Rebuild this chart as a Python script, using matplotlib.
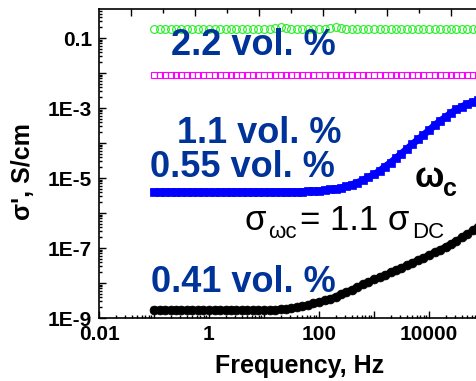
import matplotlib
matplotlib.use("Agg")
import matplotlib.pyplot as plt
from matplotlib.ticker import FixedLocator, FixedFormatter, LogLocator, NullFormatter

W, H = 477, 381
DPI = 100

# ---------------- data ----------------
freq = [0.1, 0.126, 0.158, 0.2, 0.251, 0.316, 0.398, 0.501, 0.631, 0.794,
        1.0, 1.26, 1.58, 2.0, 2.51, 3.16, 3.98, 5.01, 6.31, 7.94,
        10.0, 12.6, 15.8, 20.0, 25.1, 31.6, 39.8, 50.1, 63.1, 79.4,
        100.0, 126, 158, 200, 251, 316, 398, 501, 631, 794,
        1000, 1260, 1580, 2000, 2510, 3160, 3980, 5010, 6310, 7940,
        10000, 12600, 15800, 20000, 25100, 31600, 39800, 50100, 63100, 79400]

sigma_22 = [0.18] * 22 + [0.19, 0.21, 0.19] + [0.18] * 7 + [0.19, 0.20, 0.19] + [0.18] * 25

sigma_11 = [0.0085] * 60

sigma_055 = [4.0e-6] * 25 + [
    4.0e-6, 4.0e-6, 4.1e-6, 4.2e-6, 4.2e-6,
    4.3e-6, 4.5e-6, 4.7e-6, 4.9e-6, 5.2e-6, 5.8e-6, 6.5e-6, 7.4e-6, 8.7e-6, 1.05e-5,
    1.26e-5, 1.58e-5, 2.1e-5, 2.75e-5, 3.7e-5, 5.0e-5, 6.8e-5, 9.3e-5, 1.26e-4, 1.7e-4,
    2.3e-4, 3.2e-4, 4.2e-4, 5.5e-4, 7.2e-4, 9.1e-4, 1.1e-3, 1.3e-3, 1.5e-3, 1.66e-3]

sigma_041 = [1.7e-9] * 23 + [
    1.75e-9, 1.8e-9, 1.9e-9, 2.0e-9, 2.15e-9, 2.35e-9, 2.6e-9,
    2.9e-9, 3.2e-9, 3.5e-9, 4.1e-9, 4.8e-9, 5.6e-9, 6.5e-9, 7.6e-9, 9.1e-9, 1.07e-8,
    1.26e-8, 1.45e-8, 1.7e-8, 2.0e-8, 2.35e-8, 2.75e-8, 3.2e-8, 3.8e-8, 4.5e-8, 5.3e-8,
    6.3e-8, 7.5e-8, 8.9e-8, 1.08e-7, 1.32e-7, 1.6e-7, 2.0e-7, 2.5e-7, 3.2e-7, 4.0e-7]

labels = ["2.2 vol. %", "1.1 vol. %", "0.55 vol. %", "0.41 vol. %"]
xticks = [0.01, 0.1, 1, 10, 100, 1000, 10000]
xticklabels = ["0.01", "", "1", "", "100", "", "10000"]
yticks = [1e-9, 1e-8, 1e-7, 1e-6, 1e-5, 1e-4, 1e-3, 1e-2, 1e-1]
yticklabels = ["1E-9", "", "1E-7", "", "1E-5", "", "1E-3", "", "0.1"]

# ---------------- figure ----------------
plt.rcParams['font.family'] = ['Liberation Sans', 'DejaVu Sans']
fig = plt.figure(figsize=(W / DPI, H / DPI), dpi=DPI)
left, right, top, bottom = 99, 477, 9, 318
ax = fig.add_axes([left / W, 1 - bottom / H, (right - left) / W, (bottom - top) / H])

ax.plot(freq, sigma_22, 'o', ms=5.6, mfc='none', mec='#22ee22', mew=0.8, zorder=3)
ax.plot(freq, sigma_11, 's', ms=4.6, mfc='none', mec='#ff00ff', mew=0.8, zorder=3)
ax.plot(freq, sigma_055, 's-', ms=6.2, lw=5, color='#0000ff', mfc='#0000ff', mec='#0000ff',
        mew=0.5, zorder=3)
ax.plot(freq, sigma_041, 'o-', ms=6.4, lw=4.5, color='black', mfc='black', mec='black',
        mew=0.5, zorder=3)

ax.set_xscale('log')
ax.set_yscale('log')
ax.set_xlim(0.01, 10 ** 4.873)
ax.set_ylim(1e-9, 10 ** (-0.171))

for s in ['left', 'bottom', 'top']:
    ax.spines[s].set_linewidth(1.2)
ax.spines['right'].set_visible(False)

ax.xaxis.set_major_locator(FixedLocator(xticks))
ax.xaxis.set_major_formatter(FixedFormatter(xticklabels))
ax.xaxis.set_minor_locator(LogLocator(base=10, subs=range(2, 10), numticks=20))
ax.xaxis.set_minor_formatter(NullFormatter())
ax.yaxis.set_major_locator(FixedLocator(yticks))
ax.yaxis.set_major_formatter(FixedFormatter(yticklabels))
ax.yaxis.set_minor_locator(LogLocator(base=10, subs=range(2, 10), numticks=20))
ax.yaxis.set_minor_formatter(NullFormatter())
ax.tick_params(which='both', direction='in', top=False, right=False, width=1.0)
ax.tick_params(which='major', length=5, labelsize=15, pad=5)
ax.tick_params(which='minor', length=2.5)
for lab in ax.get_xticklabels() + ax.get_yticklabels():
    lab.set_fontweight('bold')

# top linear tick axis
ax2 = ax.twiny()
ax2.set_xscale('linear')
ax2.set_xlim(0, (right - left) / 64)
ax2.xaxis.set_major_locator(FixedLocator([0.5, 1.5, 2.5, 3.5, 4.5, 5.5]))
ax2.xaxis.set_minor_locator(FixedLocator([1, 2, 3, 4, 5]))
ax2.tick_params(which='both', direction='in', labeltop=False, width=1.0)
ax2.tick_params(which='major', length=5)
ax2.tick_params(which='minor', length=3)
for s in ['left', 'bottom', 'right', 'top']:
    ax2.spines[s].set_visible(False)

def ptext(x, y, s, **kw):
    fig.text(x / W, 1 - y / H, s, va='baseline', ha='left', **kw)

blue = '#003399'
ptext(171, 55, labels[0], fontsize=26, fontweight='bold', color=blue)
ptext(177, 143, labels[1], fontsize=26, fontweight='bold', color=blue)
ptext(150, 177, labels[2], fontsize=26, fontweight='bold', color=blue)
ptext(151, 292, labels[3], fontsize=26, fontweight='bold', color=blue)

ptext(415, 187, "ω", fontsize=25, fontweight='bold', color='black')
ptext(443, 196, "c", fontsize=18, fontweight='bold', color='black')

ptext(245, 230, "σ", fontsize=25, color='black')
ptext(268, 238, "ωc", fontsize=16, color='black')
ptext(300, 230, "= 1.1 σ", fontsize=25, color='black')
ptext(412, 238, "DC", fontsize=16, color='black')

fig.text(300 / W, 1 - 373 / H, "Frequency, Hz", ha='center', va='baseline',
         fontsize=18, fontweight='bold')
fig.text(23 / W, 1 - 172 / H, "σ', S/cm", ha='center', va='center', rotation=90,
         fontsize=18, fontweight='bold')

fig.savefig("out.png", dpi=DPI)
